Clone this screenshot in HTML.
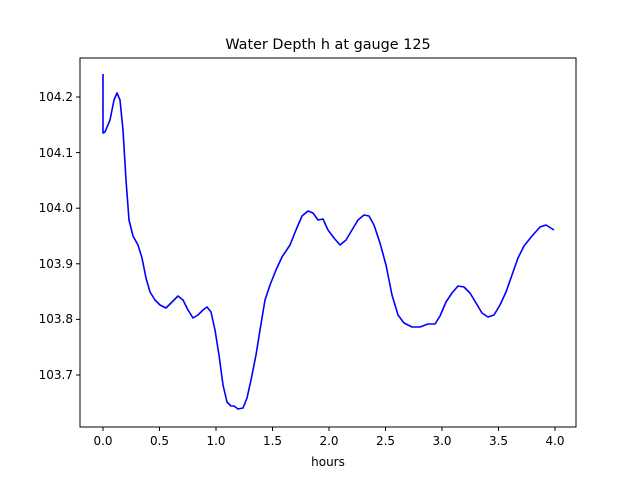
<!DOCTYPE html>
<html><head><meta charset="utf-8"><style>body{margin:0;background:#fff}</style></head><body>
<svg width="640" height="480" xmlns="http://www.w3.org/2000/svg" font-family="DejaVu Sans, Liberation Sans, sans-serif">
<rect width="640" height="480" fill="#fff"/>
<polyline fill="none" stroke="#0000ff" stroke-width="1.6" stroke-linejoin="round" points="103,74 103,133 105,132 110,120 114,100 117,93 120,100 123,130 126,180 129,220 133,236 138,245 142,258 146,278 150,292 155,300 160,305 166,308 172,302 178,296 183,300 188,310 193,318 198,315 203,310 207,307 211,312 215,330 219,355 223,385 227,402 231,406 234,406 238,409 243,408 247,398 251,380 256,355 260,330 265,300 270,285 276,270 282,257 290,245 296,230 302,216 308,211 313,213 318,220 323,219 328,230 334,238 340,245 346,240 352,230 358,220 364,215 369,216 374,225 380,243 386,265 392,295 398,315 404,323 412,327 420,327 428,324 435,324 440,316 446,302 452,293 458,286 464,287 470,293 476,303 482,313 488,317 494,315 500,305 506,292 512,275 518,258 524,246 532,236 540,227 546,225 554,230"/>
<rect x="80" y="58" width="496" height="369" fill="none" stroke="#000" stroke-width="1"/>
<g stroke="#000" stroke-width="1">
<line x1="103" y1="427" x2="103" y2="431"/><line x1="159.5" y1="427" x2="159.5" y2="431"/><line x1="216" y1="427" x2="216" y2="431"/><line x1="272.5" y1="427" x2="272.5" y2="431"/><line x1="329" y1="427" x2="329" y2="431"/><line x1="385.5" y1="427" x2="385.5" y2="431"/><line x1="442" y1="427" x2="442" y2="431"/><line x1="498.5" y1="427" x2="498.5" y2="431"/><line x1="555" y1="427" x2="555" y2="431"/>
<line x1="76" y1="97" x2="80" y2="97"/><line x1="76" y1="152.6" x2="80" y2="152.6"/><line x1="76" y1="208.2" x2="80" y2="208.2"/><line x1="76" y1="263.8" x2="80" y2="263.8"/><line x1="76" y1="319.4" x2="80" y2="319.4"/><line x1="76" y1="375" x2="80" y2="375"/>
</g>
<g font-size="12" text-anchor="middle" fill="#000">
<text x="103" y="445">0.0</text><text x="159.5" y="445">0.5</text><text x="216" y="445">1.0</text><text x="272.5" y="445">1.5</text><text x="329" y="445">2.0</text><text x="385.5" y="445">2.5</text><text x="442" y="445">3.0</text><text x="498.5" y="445">3.5</text><text x="555" y="445">4.0</text>
<text x="328" y="466">hours</text>
</g>
<g font-size="12" text-anchor="end" fill="#000">
<text x="73" y="101">104.2</text><text x="73" y="157">104.1</text><text x="73" y="212">104.0</text><text x="73" y="268">103.9</text><text x="73" y="323">103.8</text><text x="73" y="379">103.7</text>
</g>
<text x="328" y="49" font-size="14.4" text-anchor="middle">Water Depth h at gauge 125</text>
</svg>
</body></html>
